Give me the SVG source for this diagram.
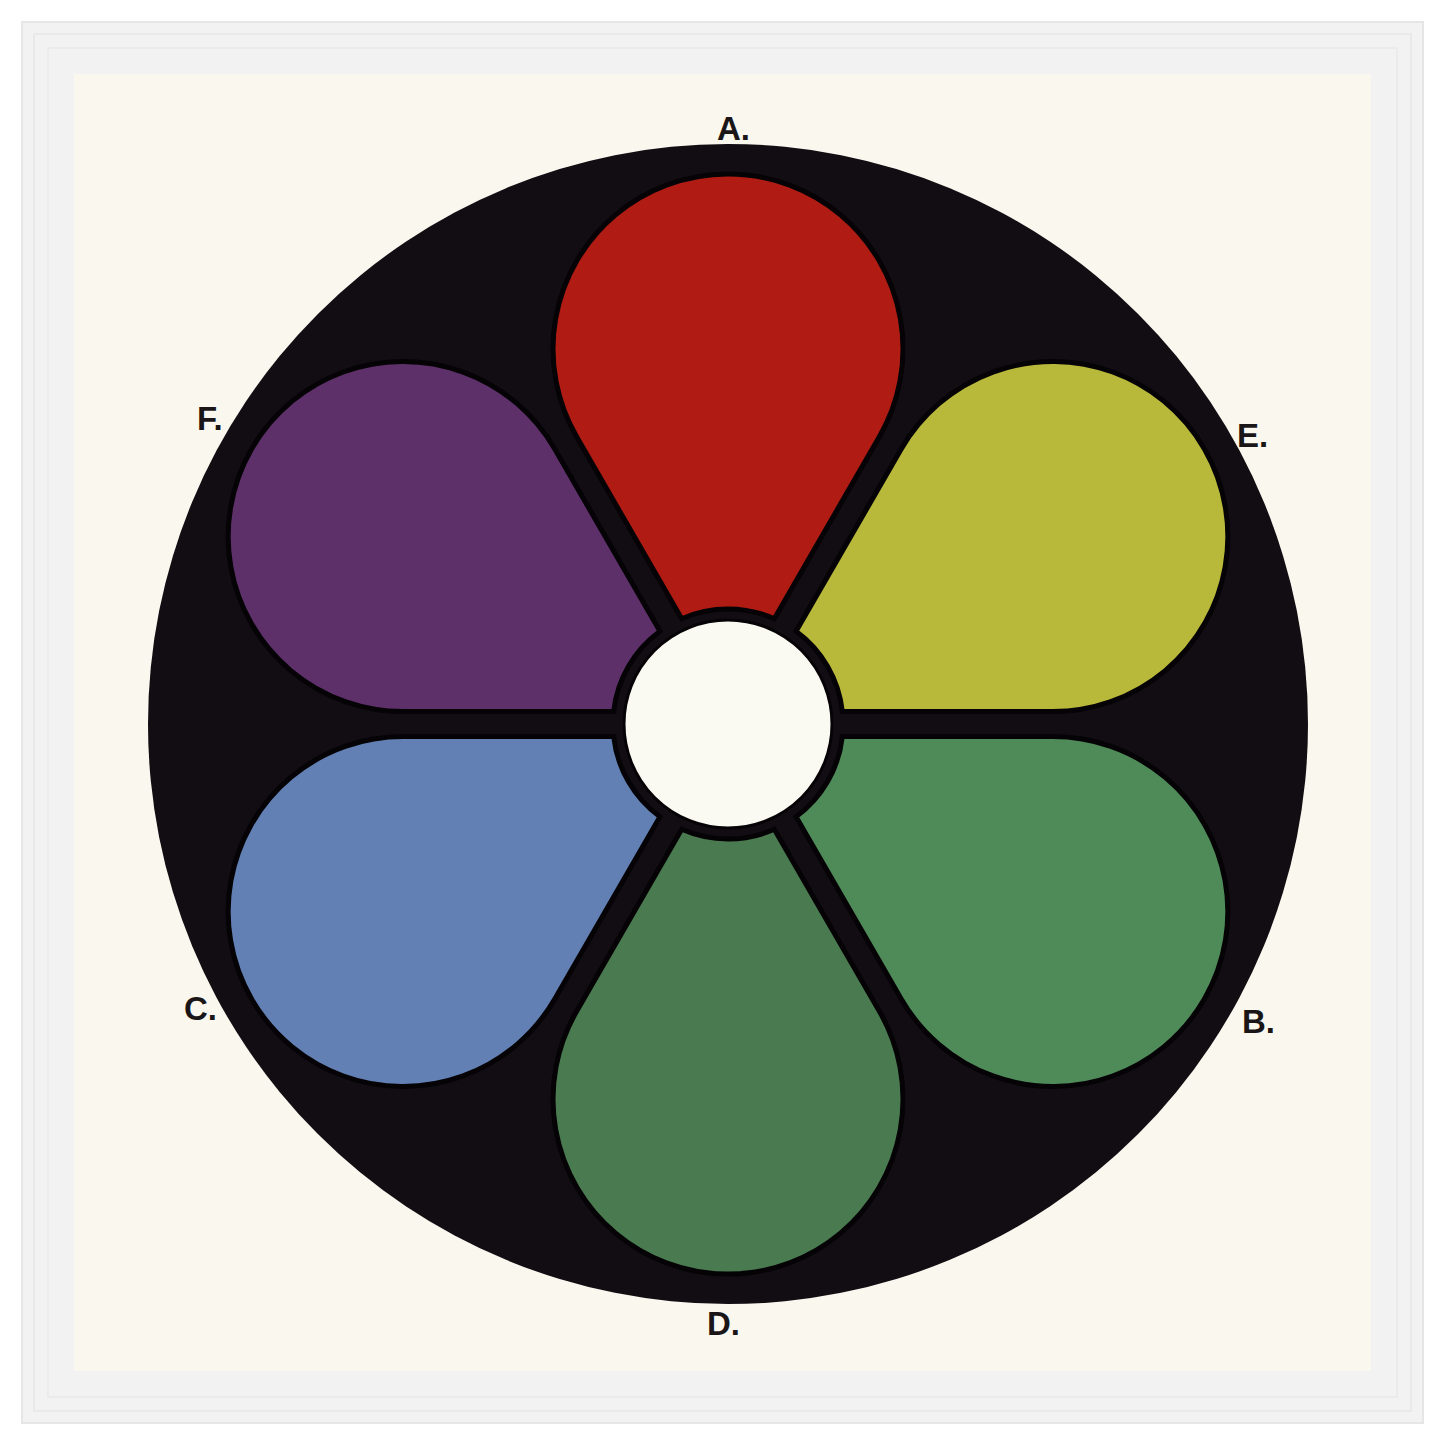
<svg xmlns="http://www.w3.org/2000/svg" width="1445" height="1445" viewBox="0 0 1445 1445">
  <style>
    .lbl { font-family: "Liberation Sans", Arial, sans-serif; font-weight: bold; font-size: 33px; fill: #1a1618; }
    .petal { stroke: #050305; stroke-width: 5; }
  </style>
  <defs>
    <path id="petal" d="M -46.3,-105.3 L -151.5,-287.5 A 175 175 0 1 1 151.5,-287.5 L 46.3,-105.3 A 115 115 0 0 0 -46.3,-105.3 Z"/>
  </defs>
  <rect x="0" y="0" width="1445" height="1445" fill="#ffffff"/>
  <g id="frame">
    <rect x="22" y="22" width="1401" height="1401" fill="#f2f2f2" stroke="#e6e6e6" stroke-width="2"/>
    <rect x="34" y="34" width="1377" height="1377" fill="none" stroke="#e9e9e9" stroke-width="2"/>
    <rect x="48" y="48" width="1349" height="1349" fill="none" stroke="#ebebeb" stroke-width="2"/>
    <rect x="74" y="74" width="1297" height="1297" fill="#faf8ee"/>
  </g>
  <g id="disc">
    <circle cx="728" cy="724" r="580" fill="#120d13"/>
  </g>
  <g transform="translate(728,724)">
    <g id="petal-A"><use href="#petal" class="petal" fill="#b01c14"/></g>
    <g id="petal-E"><use href="#petal" class="petal" fill="#b8b83a" transform="rotate(60)"/></g>
    <g id="petal-B"><use href="#petal" class="petal" fill="#4f8a59" transform="rotate(120)"/></g>
    <g id="petal-D"><use href="#petal" class="petal" fill="#4a7a4f" transform="rotate(180)"/></g>
    <g id="petal-C"><use href="#petal" class="petal" fill="#6280b4" transform="rotate(240)"/></g>
    <g id="petal-F"><use href="#petal" class="petal" fill="#5d3069" transform="rotate(300)"/></g>
  </g>
  <g id="hub">
    <circle cx="728" cy="724" r="104" fill="#fbfaf2" stroke="#050305" stroke-width="3"/>
  </g>
  <g id="labels">
    <text class="lbl" x="717" y="140">A.</text>
    <text class="lbl" x="1237" y="447">E.</text>
    <text class="lbl" x="1242" y="1033">B.</text>
    <text class="lbl" x="707" y="1335">D.</text>
    <text class="lbl" x="184" y="1020">C.</text>
    <text class="lbl" x="197" y="430">F.</text>
  </g>
</svg>
